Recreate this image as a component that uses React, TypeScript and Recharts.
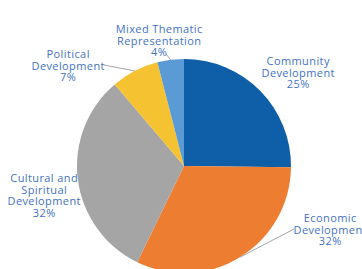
import React from "react";
import { PieChart, Pie, Cell } from "recharts";

const categories = [
  "Community Development",
  "Economic Development",
  "Cultural and Spiritual Development",
  "Political Development",
  "Mixed Thematic Representation",
];
const values = [25.2, 32, 31.6, 7.2, 4.0];
const labelLines = [
  ["Community", "Development"],
  ["Economic", "Development"],
  ["Cultural and", "Spiritual", "Development"],
  ["Political", "Development"],
  ["Mixed Thematic", "Representation"],
];
const percentLabels = ["25%", "32%", "32%", "7%", "4%"];

const colors = ["#0F5EA8", "#ED7D31", "#A5A5A5", "#F5C232", "#5B9BD5"];
// label block centre, relative to pie centre
const labelOffsets = [
  [114, -94],
  [146, 63],
  [-140, 29],
  [-116, -101],
  [-25, -126],
];
// leader line end points (relative to pie centre); null = no leader
const leaderEnds: (number[] | null)[] = [null, [110, 63], null, [-80, -101], [-18, -112]];

const data = categories.map((name, i) => ({ name, value: values[i] }));

const RAD = Math.PI / 180;
const LH = 11.5;

const renderLabel = (props: any) => {
  const { cx, cy, midAngle, outerRadius, index } = props;
  const lines = [...labelLines[index], percentLabels[index]];
  const [ox, oy] = labelOffsets[index];
  const x = cx + ox + 0.2;
  const y0 = cy + oy - ((lines.length - 1) * LH) / 2;
  const ex = cx + outerRadius * Math.cos(-midAngle * RAD);
  const ey = cy + outerRadius * Math.sin(-midAngle * RAD);
  const le = leaderEnds[index];
  return (
    <g key={"lbl" + index}>
      {le && (
        <line x1={ex} y1={ey} x2={cx + le[0]} y2={cy + le[1]} stroke="#A6A6A6" strokeWidth={1} />
      )}
      <text
        x={x}
        y={y0}
        textAnchor="middle"
        fill="#4472C4"
        fontSize={11}
        letterSpacing={0.4}
        fontFamily="'Open Sans', sans-serif"
      >
        {lines.map((t, i) => (
          <tspan key={i} x={x} y={y0 + i * LH} dominantBaseline="central">
            {t}
          </tspan>
        ))}
      </text>
    </g>
  );
};

export default function App() {
  return (
    <div style={{ position: "absolute", left: 0, top: 0, width: 362, height: 269, background: "#fff", overflow: "hidden" }}>
      <PieChart width={362} height={269} margin={{ top: 0, right: 0, bottom: 0, left: 0 }}>
        <Pie
          data={data}
          dataKey="value"
          nameKey="name"
          cx={184}
          cy={166}
          outerRadius={107}
          startAngle={90}
          endAngle={-270}
          stroke="none"
          label={renderLabel}
          labelLine={false}
          isAnimationActive={false}
        >
          {data.map((d, i) => (
            <Cell key={d.name} fill={colors[i]} />
          ))}
        </Pie>
      </PieChart>
    </div>
  );
}
